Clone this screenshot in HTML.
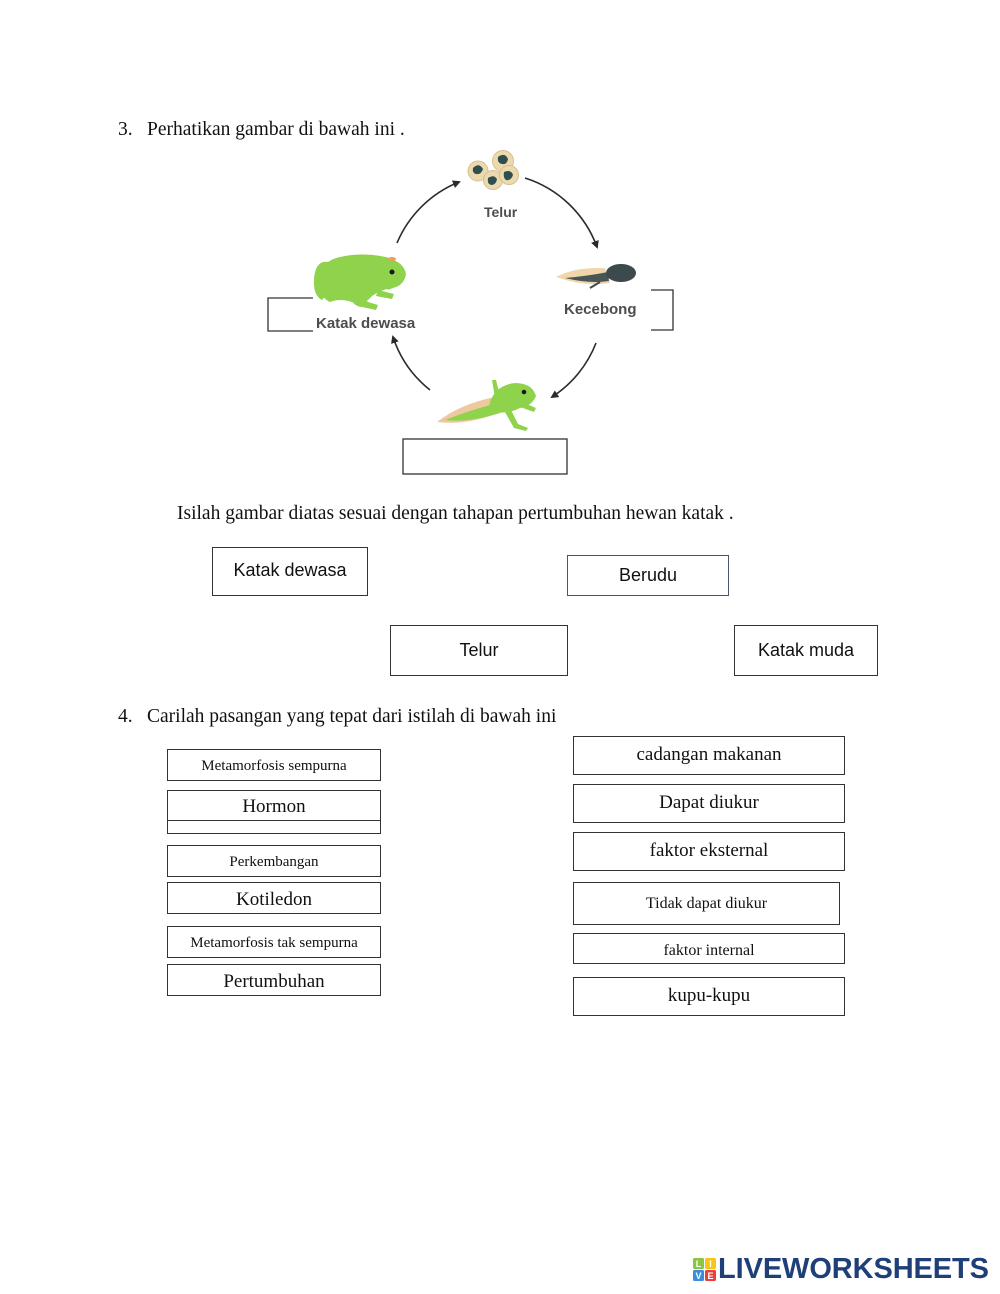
<!DOCTYPE html>
<html>
<head>
<meta charset="utf-8">
<style>
  html, body { margin:0; padding:0; background:#fff; }
  body { width:1000px; height:1294px; position:relative; overflow:hidden; }
  .t { position:absolute; font-family:"Liberation Serif", serif; color:#111; white-space:nowrap; }
  .box { position:absolute; box-sizing:border-box; border:1.4px solid #333; background:#fff;
         display:flex; align-items:center; justify-content:center; white-space:nowrap; color:#111; }
  .sans { font-family:"Liberation Sans", sans-serif; font-size:18px; }
  .serif { font-family:"Liberation Serif", serif; }
  .lbl { position:absolute; font-family:"Liberation Sans", sans-serif; font-weight:bold; color:#4d4d4d; white-space:nowrap; }
</style>
</head>
<body>

<svg width="1000" height="1294" style="position:absolute;left:0;top:0" xmlns="http://www.w3.org/2000/svg">
  <defs>
    <marker id="ah" markerWidth="8" markerHeight="8" refX="6" refY="4" orient="auto" markerUnits="userSpaceOnUse">
      <path d="M0,0 L8,4 L0,8 Z" fill="#2b2b2b"/>
    </marker>
  </defs>
  <!-- arrows -->
  <g fill="none" stroke="#2b2b2b" stroke-width="1.6">
    <path d="M397,243 A113,113 0 0,1 459,182" marker-end="url(#ah)"/>
    <path d="M525,178 A113,113 0 0,1 597,247" marker-end="url(#ah)"/>
    <path d="M596,343 A113,113 0 0,1 552,397" marker-end="url(#ah)"/>
    <path d="M430,390 A113,113 0 0,1 393,337" marker-end="url(#ah)"/>
  </g>

  <!-- eggs -->
  <g>
    <circle cx="478" cy="171" r="10" fill="#ecd9b0" stroke="#d8bf8c" stroke-width="1"/>
    <circle cx="503" cy="161" r="10.5" fill="#ecd9b0" stroke="#d8bf8c" stroke-width="1"/>
    <circle cx="493" cy="180" r="9.5" fill="#ecd9b0" stroke="#d8bf8c" stroke-width="1"/>
    <circle cx="509" cy="175" r="9.5" fill="#ecd9b0" stroke="#d8bf8c" stroke-width="1"/>
    <path d="M473,168 q6,-6 10,1 q-2,6 -7,5 q-4,-1 -3,-6z" fill="#2e4f4d"/>
    <path d="M498,157 q7,-5 10,2 q-1,6 -6,5 q-5,-1 -4,-7z" fill="#2e4f4d"/>
    <path d="M488,178 q6,-4 9,1 q-1,6 -6,6 q-4,-1 -3,-7z" fill="#2e4f4d"/>
    <path d="M504,172 q7,-3 9,3 q-2,6 -7,5 q-3,-2 -2,-8z" fill="#2e4f4d"/>
  </g>

  <!-- tadpole -->
  <g>
    <path d="M556,277 Q575,267 605,268 L610,283 Q585,287 556,277z" fill="#f0d6aa"/>
    <path d="M565,278 Q588,276 608,272 L609,281 Q590,284 565,278z" fill="#4a5557"/>
    <ellipse cx="621" cy="273" rx="15" ry="9" fill="#3d4a4d"/>
    <path d="M600,282 l-10,6" stroke="#3d4a4d" stroke-width="2"/>
  </g>

  <!-- adult frog -->
  <g fill="#8fd24b">
    <path d="M320,282 Q318,262 340,257 Q362,252 386,257 Q404,262 406,274 Q404,286 392,288 Q380,290 372,296 Q364,306 352,302 Q340,298 330,302 Q320,298 320,282z"/>
    <path d="M328,262 Q316,260 314,278 Q313,296 322,300 Q330,292 330,280 z"/>
    <path d="M350,296 Q352,306 362,307 L376,310 L378,305 L368,302 Q362,296 360,292z"/>
    <path d="M385,283 L398,280 L400,285 L388,290z"/>
    <path d="M378,290 L394,294 L392,299 L376,296z"/>
  </g>
  <circle cx="392" cy="272" r="2.5" fill="#1a1a1a"/>
  <ellipse cx="392" cy="259" rx="4" ry="2" fill="#e8a060"/>

  <!-- young frog -->
  <g>
    <path d="M437,422 Q460,404 495,397 L505,410 Q470,426 437,422z" fill="#eec9a0"/>
    <path d="M445,420 Q470,410 498,403 L503,412 Q470,423 445,420z" fill="#8fd24b"/>
    <path d="M490,402 Q496,385 515,383 Q532,383 536,396 Q532,406 520,408 Q508,414 496,412 Q488,410 490,402z" fill="#8fd24b"/>
    <path d="M495,398 L492,380 L496,380 L500,396z" fill="#8fd24b"/>
    <path d="M510,408 L518,424 L528,428 L526,431 L514,428 L505,412z" fill="#8fd24b"/>
    <path d="M522,402 L536,408 L534,412 L520,407z" fill="#8fd24b"/>
  </g>
  <circle cx="524" cy="392" r="2.3" fill="#1a1a1a"/>

  <!-- diagram answer boxes -->
  <g fill="none" stroke="#333" stroke-width="1.3">
    <polyline points="313,298 268,298 268,331 313,331"/>
    <polyline points="651,290 673,290 673,330 651,330"/>
    <rect x="403" y="439" width="164" height="35"/>
  </g>

  <!-- logo icon -->
  <g font-family="Liberation Sans, sans-serif" font-weight="bold" font-size="9" fill="#fff" text-anchor="middle">
    <rect x="693" y="1258" width="11" height="11" rx="1.5" fill="#8cc63f"/>
    <rect x="705" y="1258" width="11" height="11" rx="1.5" fill="#f5c518"/>
    <rect x="693" y="1270" width="11" height="11" rx="1.5" fill="#3a8ddb"/>
    <rect x="705" y="1270" width="11" height="11" rx="1.5" fill="#e8413c"/>
    <text x="698.5" y="1267">L</text>
    <text x="710.5" y="1267">I</text>
    <text x="698.5" y="1279">V</text>
    <text x="710.5" y="1279">E</text>
  </g>
</svg>

<!-- diagram labels -->
<div class="lbl" style="left:484px;top:204px;font-size:14px;">Telur</div>
<div class="lbl" style="left:564px;top:301px;font-size:15px;">Kecebong</div>
<div class="lbl" style="left:316px;top:315px;font-size:15px;">Katak dewasa</div>

<!-- question 3 -->
<div class="t" style="left:118px;top:119px;font-size:19.5px;">3.</div>
<div class="t" style="left:147px;top:119px;font-size:19.5px;">Perhatikan gambar di bawah ini .</div>
<div class="t" style="left:177px;top:503px;font-size:19.5px;">Isilah gambar diatas sesuai dengan tahapan pertumbuhan hewan katak .</div>

<div class="box sans" style="left:212px;top:547px;width:156px;height:49px;padding-bottom:2px;">Katak dewasa</div>
<div class="box sans" style="left:567px;top:555px;width:162px;height:41px;border-color:#4a5670;">Berudu</div>
<div class="box sans" style="left:390px;top:625px;width:178px;height:51px;">Telur</div>
<div class="box sans" style="left:734px;top:625px;width:144px;height:51px;">Katak muda</div>

<!-- question 4 -->
<div class="t" style="left:118px;top:706px;font-size:19.5px;">4.</div>
<div class="t" style="left:147px;top:706px;font-size:19.5px;">Carilah pasangan yang tepat dari istilah di bawah ini</div>

<!-- left column -->
<div class="box serif" style="left:167px;top:749px;width:214px;height:32px;font-size:15px;padding-top:2px;">Metamorfosis sempurna</div>
<div class="box serif" style="left:167px;top:795px;width:214px;height:39px;"></div>
<div class="box serif" style="left:167px;top:790px;width:214px;height:31px;font-size:19px;padding-top:3px;">Hormon</div>
<div class="box serif" style="left:167px;top:845px;width:214px;height:32px;font-size:15px;padding-top:2px;">Perkembangan</div>
<div class="box serif" style="left:167px;top:882px;width:214px;height:32px;font-size:19px;padding-top:3px;">Kotiledon</div>
<div class="box serif" style="left:167px;top:926px;width:214px;height:32px;font-size:15px;padding-top:2px;">Metamorfosis tak sempurna</div>
<div class="box serif" style="left:167px;top:964px;width:214px;height:32px;font-size:19px;padding-top:4px;">Pertumbuhan</div>

<!-- right column -->
<div class="box serif" style="left:573px;top:736px;width:272px;height:39px;font-size:19px;padding-bottom:1px;">cadangan makanan</div>
<div class="box serif" style="left:573px;top:784px;width:272px;height:39px;font-size:19px;padding-bottom:1px;">Dapat diukur</div>
<div class="box serif" style="left:573px;top:832px;width:272px;height:39px;font-size:19px;padding-bottom:1px;">faktor eksternal</div>
<div class="box serif" style="left:573px;top:882px;width:267px;height:43px;font-size:16px;border-width:1.8px;">Tidak dapat diukur</div>
<div class="box serif" style="left:573px;top:933px;width:272px;height:31px;font-size:16px;padding-top:4px;">faktor internal</div>
<div class="box serif" style="left:573px;top:977px;width:272px;height:39px;font-size:19px;padding-bottom:1px;">kupu-kupu</div>

<!-- logo -->
<div style="position:absolute;left:718px;top:1253px;font-family:'Liberation Sans',sans-serif;font-weight:bold;font-size:29px;color:#1f3f78;letter-spacing:-0.1px;white-space:nowrap;line-height:32px;">LIVEWORKSHEETS</div>

</body>
</html>
